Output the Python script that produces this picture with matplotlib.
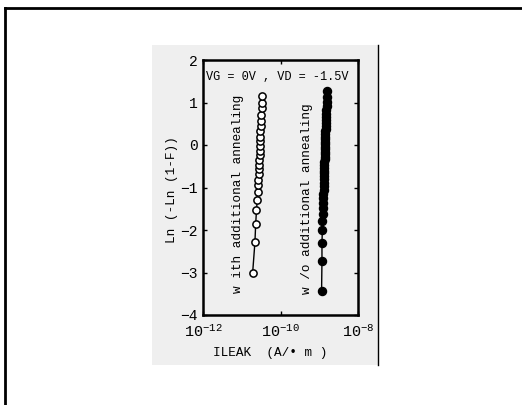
import matplotlib
matplotlib.use("Agg")
import matplotlib.pyplot as plt
import numpy as np
from matplotlib.patches import Rectangle
from matplotlib.lines import Line2D

plt.rcParams['font.family'] = ['Liberation Mono', 'DejaVu Sans']
plt.rcParams['mathtext.default'] = 'regular'

# ---- data (log10 of leakage current, Weibull plot value) ----
with_log_ileak = [-10.72, -10.66, -10.64, -10.62, -10.60, -10.59, -10.58, -10.57,
                  -10.56, -10.56, -10.55, -10.55, -10.54, -10.54, -10.53, -10.53,
                  -10.52, -10.52, -10.51, -10.51, -10.50, -10.49, -10.48, -10.47]
with_weibull = [-3.02, -2.29, -1.85, -1.54, -1.29, -1.10, -0.95, -0.82,
                -0.69, -0.57, -0.46, -0.35, -0.24, -0.13, -0.02, 0.09,
                0.20, 0.32, 0.44, 0.57, 0.71, 0.86, 1.00, 1.15]

wo_log_ileak = [-8.94, -8.93, -8.93, -8.92, -8.92, -8.91, -8.91, -8.90, -8.90, -8.90,
                -8.89, -8.89, -8.89, -8.88, -8.88, -8.88, -8.87, -8.87, -8.87, -8.87,
                -8.86, -8.86, -8.86, -8.86, -8.85, -8.85, -8.85, -8.85, -8.84, -8.84,
                -8.84, -8.84, -8.83, -8.83, -8.83, -8.83, -8.82, -8.82, -8.82, -8.81,
                -8.81, -8.81, -8.80]
wo_weibull = [-3.44, -2.73, -2.31, -2.00, -1.79, -1.62, -1.48, -1.36, -1.25, -1.15,
              -1.06, -0.97, -0.89, -0.81, -0.74, -0.67, -0.60, -0.53, -0.47, -0.40,
              -0.34, -0.28, -0.22, -0.16, -0.10, -0.04, 0.02, 0.08, 0.14, 0.20,
              0.26, 0.32, 0.38, 0.45, 0.52, 0.59, 0.66, 0.74, 0.82, 0.91,
              1.01, 1.13, 1.28]

x_limits = [1e-12, 1e-8]
y_limits = [-4, 2]
y_ticks = [-4, -3, -2, -1, 0, 1, 2]
x_ticks = [1e-12, 1e-10, 1e-8]

condition_label = "VG = 0V , VD = -1.5V"
with_label = "w ith additional annealing"
wo_label = "w /o additional annealing"
y_label = "Ln (-Ln (1-F))"
x_label = "ILEAK  (A/• m )"

W, H = 522, 405
fig = plt.figure(figsize=(W / 100, H / 100), dpi=100)
fig.patch.set_facecolor('white')

# gray panel behind the chart
fig.patches.append(Rectangle((152 / W, 1 - 365 / H), 226 / W, 320 / H,
                             transform=fig.transFigure, facecolor='#efefef',
                             edgecolor='none', zorder=-10))
# right edge line of panel
fig.lines.append(Line2D([378 / W, 378 / W], [1 - 45 / H, 1 - 365 / H],
                        transform=fig.transFigure, color='black', lw=1.0, zorder=-5))
# outer border (top and left)
fig.lines.append(Line2D([5 / W, 5 / W], [0, 1 - 8 / H], transform=fig.transFigure,
                        color='black', lw=2.0, zorder=-5))
fig.lines.append(Line2D([5 / W, 1], [1 - 8 / H, 1 - 8 / H], transform=fig.transFigure,
                        color='black', lw=2.0, zorder=-5))

ax = fig.add_axes([203 / W, 1 - 315 / H, 155 / W, 255 / H])
ax.set_facecolor('none')
ax.set_zorder(5)

ax.plot(10 ** np.array(with_log_ileak), with_weibull, '-o', color='black', lw=1.0,
        markersize=5.2, markerfacecolor='white', markeredgecolor='black',
        markeredgewidth=1.1)
ax.plot(10 ** np.array(wo_log_ileak), wo_weibull, '-o', color='black', lw=1.0,
        markersize=5.8, markerfacecolor='black', markeredgecolor='black')

ax.set_xscale('log')
ax.set_xlim(*x_limits)
ax.set_ylim(*y_limits)
ax.set_xticks(x_ticks)
ax.set_yticks(y_ticks)
ax.tick_params(which='both', direction='in', top=True, right=True, labelsize=10.5,
               width=1.0, pad=4)
ax.tick_params(axis='x', which='major', labelsize=11, pad=6)
ax.tick_params(which='major', length=3)
ax.tick_params(which='minor', length=2)
ax.tick_params(axis='y', which='minor', left=False, right=False)
for s in ax.spines.values():
    s.set_linewidth(1.8)

ax.text(0.02, 0.935, condition_label, transform=ax.transAxes, fontsize=8.6,
        ha='left', va='center')
ax.text(10 ** -11.10, -1.15, with_label, rotation=90, fontsize=9.2,
        ha='center', va='center')
ax.text(10 ** -9.32, -1.27, wo_label, rotation=90, fontsize=9.2,
        ha='center', va='center')

fig.text(172 / W, 1 - 190 / H, y_label, rotation=90, fontsize=9.2,
         ha='center', va='center')
fig.text(270 / W, 1 - 353 / H, x_label, fontsize=9.2, ha='center', va='center')

fig.savefig('out.png', dpi=100)
